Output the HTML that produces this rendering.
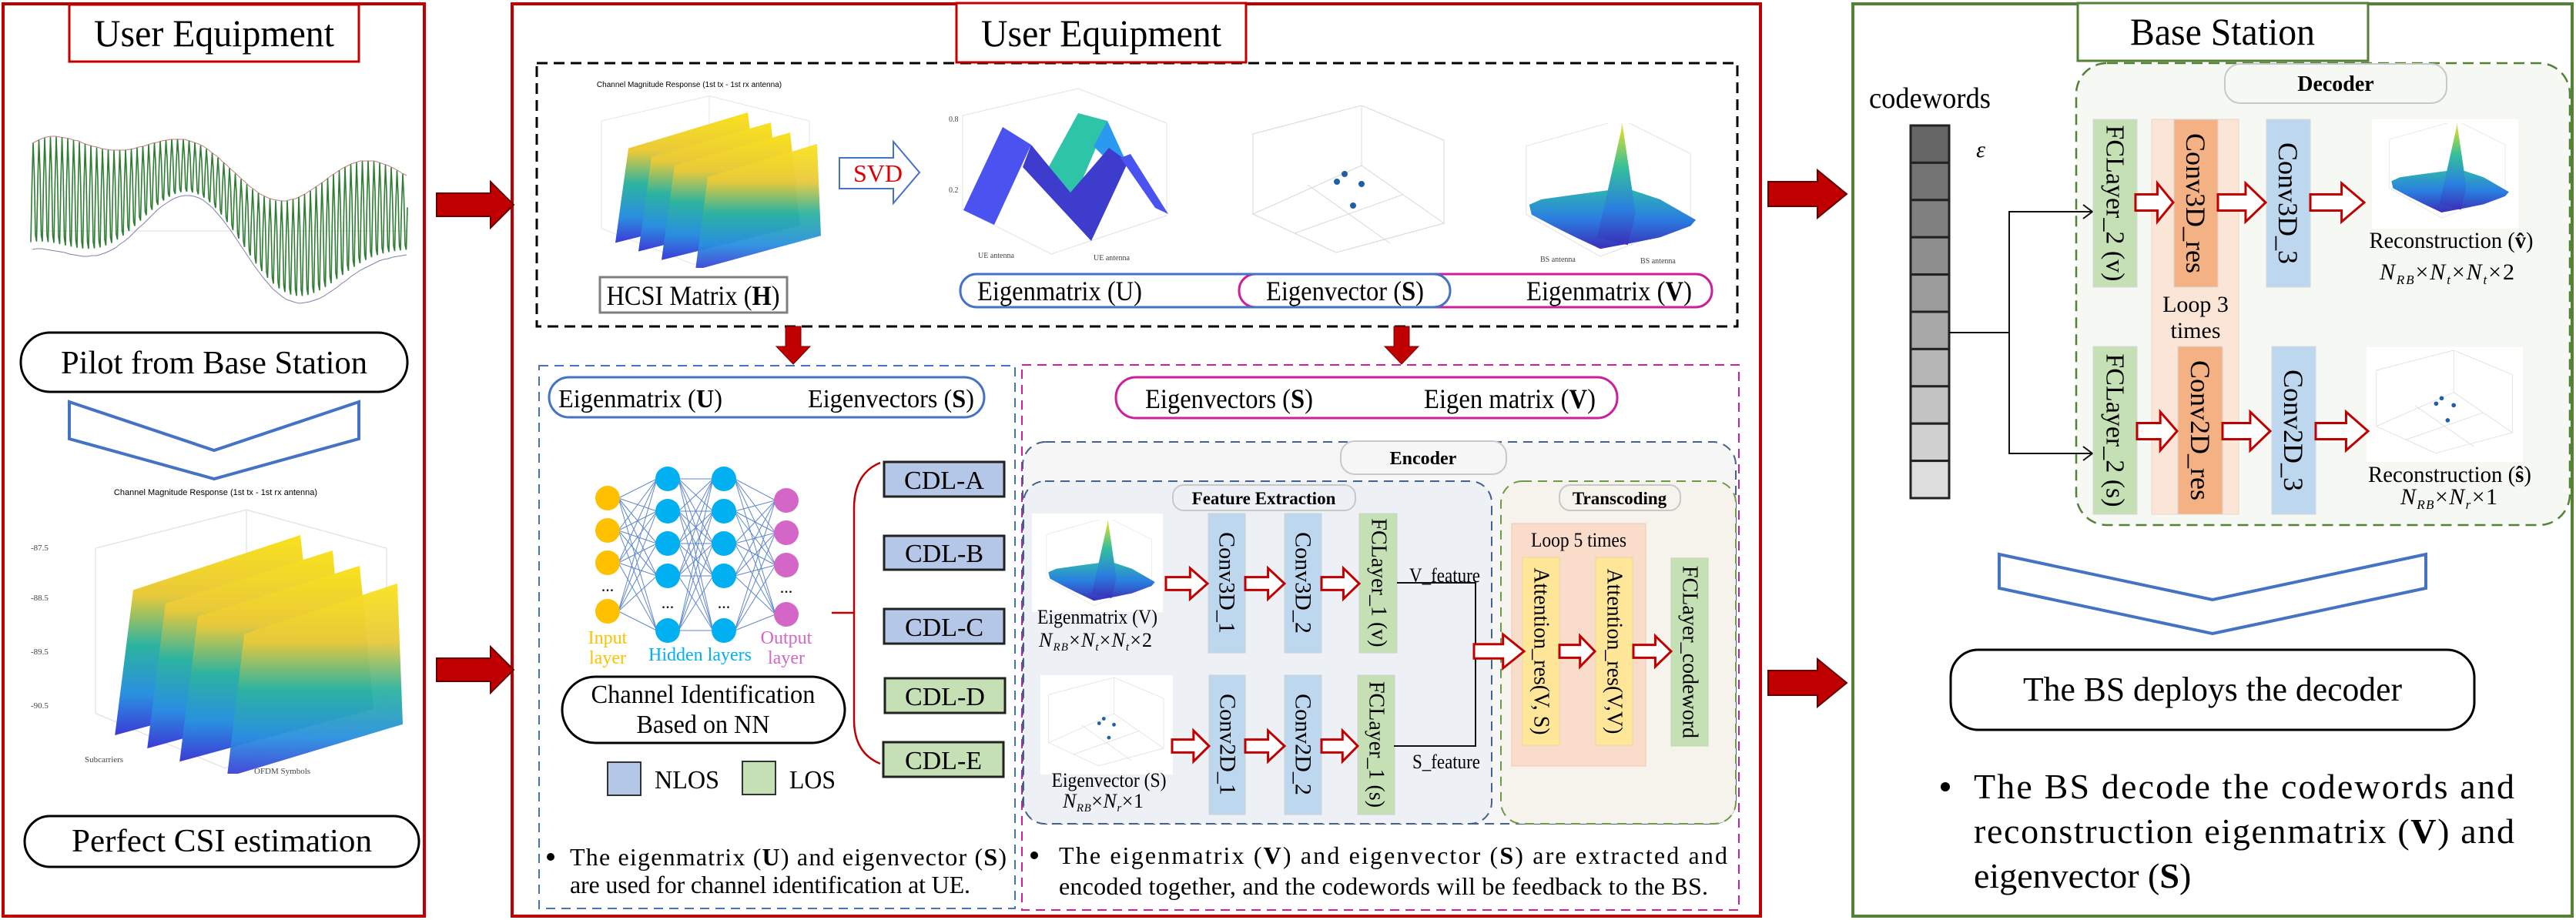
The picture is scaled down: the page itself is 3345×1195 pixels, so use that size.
<!DOCTYPE html>
<html><head><meta charset="utf-8">
<style>
html,body{margin:0;padding:0;background:#fff;}
svg{display:block;}
text{font-family:"Liberation Serif","DejaVu Serif",serif;}
.sans{font-family:"Liberation Sans",sans-serif;}
</style></head>
<body>
<svg id="s" width="3345" height="1195" viewBox="0 0 3345 1195" xmlns="http://www.w3.org/2000/svg">
<defs>
 <linearGradient id="ridge" x1="0" y1="0" x2="0" y2="1">
  <stop offset="0" stop-color="#f9e21d"/><stop offset="0.3" stop-color="#e9c93a"/><stop offset="0.55" stop-color="#2cb3a0"/><stop offset="0.8" stop-color="#2a8fe0"/><stop offset="1" stop-color="#3d3bd6"/>
 </linearGradient>
 <linearGradient id="vbase" x1="0" y1="0" x2="0" y2="1">
  <stop offset="0" stop-color="#2fb6b0"/><stop offset="0.5" stop-color="#2a7fe0"/><stop offset="1" stop-color="#3a2fb8"/>
 </linearGradient>
 <linearGradient id="spike" x1="0" y1="0" x2="0" y2="1">
  <stop offset="0" stop-color="#f0e020"/><stop offset="0.35" stop-color="#35c09a"/><stop offset="0.7" stop-color="#2a7fe0"/><stop offset="1" stop-color="#3a2fb8"/>
 </linearGradient>
 <symbol id="hcsi" viewBox="0 0 350 245" preserveAspectRatio="none">
  <g stroke="#e4e4e4" stroke-width="1" fill="none">
   <path d="M60 40 L60 190 L180 240 L330 180 L330 40"/><path d="M60 40 L200 5 L330 40"/><path d="M200 5 L200 150"/>
  </g>
  <polygon points="78,210 95,78 250,28 265,160" fill="url(#ridge)"/>
  <polygon points="108,222 125,90 280,42 292,172" fill="url(#ridge)"/>
  <polygon points="138,234 155,102 305,56 318,186" fill="url(#ridge)"/>
  <polygon points="182,248 198,118 340,72 345,200" fill="url(#ridge)" opacity="0.95"/>
 </symbol>
 <symbol id="vplot" viewBox="0 0 260 185" preserveAspectRatio="none">
  <g stroke="#e2e2e2" stroke-width="1" fill="none">
   <path d="M25 30 L25 120 L122 175 L240 130 L240 40"/><path d="M25 30 L150 -5 L240 40"/><path d="M150 -5 L150 95"/>
  </g>
  <polygon points="29,107 45,100 80,95 155,85 200,100 247,127 240,135 200,150 160,158 122,165 90,150 60,135 32,120" fill="url(#vbase)"/>
  <polygon points="118,150 151,2 168,118 158,160" fill="url(#spike)"/>
 </symbol>
 <symbol id="splot" viewBox="0 0 274 203" preserveAspectRatio="none">
  <g stroke="#d8d8d8" stroke-width="1" fill="none">
   <path d="M11 141 L119 191 L259 153 L152 78 Z"/><path d="M11 141 L11 37 L152 0 L259 45 L259 153"/><path d="M152 78 L152 0"/>
   <path d="M65 166 L205 116"/><path d="M189 179 L82 103"/>
  </g>
  <g fill="#1f5fa8"><circle cx="130" cy="89" r="4"/><circle cx="120" cy="99" r="4"/><circle cx="152" cy="102" r="4"/><circle cx="141" cy="130" r="4"/></g>
 </symbol>
</defs>

<!-- ============ LEFT PANEL ============ -->
<rect x="4" y="5" width="547" height="1185" fill="none" stroke="#c00000" stroke-width="4"/>
<rect x="90" y="6" width="376" height="74" fill="#fff" stroke="#c00000" stroke-width="3"/>
<text x="278" y="60" font-size="50" text-anchor="middle" textLength="312" lengthAdjust="spacingAndGlyphs">User Equipment</text>
<g id="wave"></g>
<rect x="27" y="432" width="502" height="77" rx="38" fill="#fff" stroke="#000" stroke-width="3"/>
<text x="278" y="485" font-size="42" text-anchor="middle" textLength="398" lengthAdjust="spacingAndGlyphs">Pilot from Base Station</text>
<polygon points="90,522 278,585 466,522 466,570 278,622 90,570" fill="none" stroke="#4472c4" stroke-width="4"/>
<text class="sans" x="280" y="643" font-size="11" text-anchor="middle">Channel Magnitude Response (1st tx - 1st rx antenna)</text>
<use href="#hcsi" x="40" y="655" width="490" height="350"/>
<g class="sans" font-size="11" fill="#444">
 <text x="40" y="715">-87.5</text><text x="40" y="780">-88.5</text><text x="40" y="850">-89.5</text><text x="40" y="920">-90.5</text>
 <text x="110" y="990">Subcarriers</text><text x="330" y="1005">OFDM Symbols</text>
</g>
<rect x="32" y="1060" width="512" height="66" rx="33" fill="#fff" stroke="#000" stroke-width="3"/>
<text x="288" y="1106" font-size="42" text-anchor="middle" textLength="390" lengthAdjust="spacingAndGlyphs">Perfect CSI estimation</text>

<!-- ============ MIDDLE PANEL ============ -->
<rect x="665" y="5" width="1621" height="1185" fill="none" stroke="#c00000" stroke-width="4"/>
<rect x="697" y="82" width="1559" height="342" fill="none" stroke="#000" stroke-width="3" stroke-dasharray="14 8"/>
<rect x="1242" y="4" width="376" height="77" fill="#fff" stroke="#c00000" stroke-width="3"/>
<text x="1430" y="60" font-size="50" text-anchor="middle" textLength="312" lengthAdjust="spacingAndGlyphs">User Equipment</text>

<text class="sans" x="895" y="113" font-size="10" text-anchor="middle">Channel Magnitude Response (1st tx - 1st rx antenna)</text>
<use href="#hcsi" x="721" y="120" width="350" height="228"/>
<rect x="779" y="360" width="243" height="46" fill="#fff" stroke="#7f7f7f" stroke-width="3"/>
<text x="900" y="396" font-size="36" text-anchor="middle" textLength="225" lengthAdjust="spacingAndGlyphs">HCSI Matrix (<tspan font-weight="bold">H</tspan>)</text>
<polygon points="1090,205 1160,205 1160,184 1194,224 1160,264 1160,245 1090,245" fill="#fff" stroke="#4472c4" stroke-width="2"/>
<text x="1140" y="236" font-size="32" fill="#e00000" text-anchor="middle">SVD</text>

<!-- U plot -->
<g stroke="#e2e2e2" fill="none"><path d="M1250 150 L1250 272 L1365 330 L1515 280 L1515 160"/><path d="M1250 150 L1400 115 L1515 160"/></g>
<polygon points="1251,273 1302,165 1339,188 1291,292" fill="#4a52f0"/>
<polygon points="1360,220 1400,147 1438,157 1395,258" fill="#2ec4a8"/>
<polygon points="1420,190 1438,157 1460,205 1440,210" fill="#2a9af0"/>
<polygon points="1328,217 1339,188 1390,250 1440,192 1465,210 1417,313" fill="#3d3ccc"/>
<polygon points="1455,205 1468,200 1517,278 1500,270" fill="#4a52f0"/>
<g class="sans" font-size="10" fill="#444"><text x="1232" y="158">0.8</text><text x="1232" y="250">0.2</text><text x="1270" y="335">UE antenna</text><text x="1420" y="338">UE antenna</text></g>
<use href="#splot" x="1616" y="137" width="274" height="203"/>
<use href="#vplot" x="1957" y="160" width="258" height="183"/>
<g class="sans" font-size="10" fill="#444"><text x="2000" y="340">BS antenna</text><text x="2130" y="342">BS antenna</text></g>

<rect x="1609" y="356" width="614" height="43" rx="21" fill="#fff" stroke="#cc1f9a" stroke-width="3"/>
<rect x="1247" y="356" width="636" height="43" rx="21" fill="none" stroke="#4472c4" stroke-width="3"/>
<text x="1269" y="390" font-size="36" textLength="214" lengthAdjust="spacingAndGlyphs">Eigenmatrix (U)</text>
<text x="1644" y="390" font-size="36" textLength="205" lengthAdjust="spacingAndGlyphs">Eigenvector (<tspan font-weight="bold">S</tspan>)</text>
<text x="1982" y="390" font-size="36" textLength="215" lengthAdjust="spacingAndGlyphs">Eigenmatrix (<tspan font-weight="bold">V</tspan>)</text>

<!-- down arrows -->
<polygon points="1020,424 1040,424 1040,450 1052,450 1030,473 1008,450 1020,450" fill="#c00000" stroke="#7a0000" stroke-width="1"/>
<polygon points="1810,424 1830,424 1830,450 1842,450 1820,473 1798,450 1810,450" fill="#c00000" stroke="#7a0000" stroke-width="1"/>

<!-- Blue dashed: channel identification -->
<rect x="700" y="475" width="618" height="705" fill="none" stroke="#4472c4" stroke-width="2" stroke-dasharray="12 8"/>
<rect x="713" y="490" width="565" height="52" rx="26" fill="#fff" stroke="#4472c4" stroke-width="3"/>
<text x="725" y="529" font-size="34" textLength="213" lengthAdjust="spacingAndGlyphs">Eigenmatrix (<tspan font-weight="bold">U</tspan>)</text>
<text x="1049" y="529" font-size="34" textLength="216" lengthAdjust="spacingAndGlyphs">Eigenvectors (<tspan font-weight="bold">S</tspan>)</text>
<g id="nnedges" stroke="#4472c4" stroke-width="1" opacity="0.85"></g>
<g fill="#ffc000"><circle cx="789" cy="647" r="16"/><circle cx="789" cy="689" r="16"/><circle cx="789" cy="731" r="16"/><circle cx="789" cy="794" r="16"/></g>
<g fill="#00b0f0"><circle cx="867" cy="622" r="16"/><circle cx="867" cy="664" r="16"/><circle cx="867" cy="706" r="16"/><circle cx="867" cy="748" r="16"/><circle cx="867" cy="819" r="16"/>
<circle cx="940" cy="622" r="16"/><circle cx="940" cy="664" r="16"/><circle cx="940" cy="706" r="16"/><circle cx="940" cy="748" r="16"/><circle cx="940" cy="819" r="16"/></g>
<g fill="#d466c8"><circle cx="1021" cy="650" r="16"/><circle cx="1021" cy="692" r="16"/><circle cx="1021" cy="734" r="16"/><circle cx="1021" cy="798" r="16"/></g>
<g font-size="22" text-anchor="middle"><text x="789" y="768">...</text><text x="867" y="790">...</text><text x="940" y="790">...</text><text x="1021" y="770">...</text></g>
<g font-size="24" text-anchor="middle">
 <text x="789" y="836" fill="#ffc000">Input</text><text x="789" y="862" fill="#ffc000">layer</text>
 <text x="909" y="858" fill="#00b0f0">Hidden layers</text>
 <text x="1021" y="836" fill="#d466c8">Output</text><text x="1021" y="862" fill="#d466c8">layer</text>
</g>
<rect x="730" y="879" width="367" height="86" rx="43" fill="#fff" stroke="#000" stroke-width="3"/>
<text x="913" y="913" font-size="34" text-anchor="middle" textLength="291" lengthAdjust="spacingAndGlyphs">Channel Identification</text>
<text x="913" y="952" font-size="34" text-anchor="middle" textLength="173" lengthAdjust="spacingAndGlyphs">Based on NN</text>
<rect x="789" y="990" width="43" height="43" fill="#b4c7e7" stroke="#333" stroke-width="2"/>
<text x="850" y="1024" font-size="34" textLength="84" lengthAdjust="spacingAndGlyphs">NLOS</text>
<rect x="964" y="989" width="43" height="43" fill="#c5e0b4" stroke="#333" stroke-width="2"/>
<text x="1025" y="1024" font-size="34" textLength="60" lengthAdjust="spacingAndGlyphs">LOS</text>
<path d="M1143 601 Q1109 615 1109 660 L1109 935 Q1109 978 1143 992 M1080 796 L1109 796" fill="none" stroke="#c00000" stroke-width="2.5"/>
<g stroke="#222" stroke-width="3">
 <rect x="1148" y="600" width="156" height="45" fill="#b4c7e7"/>
 <rect x="1148" y="696" width="156" height="44" fill="#b4c7e7"/>
 <rect x="1148" y="791" width="156" height="45" fill="#b4c7e7"/>
 <rect x="1149" y="881" width="156" height="45" fill="#c5e0b4"/>
 <rect x="1147" y="964" width="156" height="45" fill="#c5e0b4"/>
</g>
<g font-size="34" text-anchor="middle">
 <text x="1226" y="635">CDL-A</text><text x="1226" y="730">CDL-B</text><text x="1226" y="826">CDL-C</text><text x="1227" y="916">CDL-D</text><text x="1225" y="999">CDL-E</text>
</g>
<circle cx="715" cy="1113" r="5" fill="#000"/>
<text x="740" y="1124" font-size="32" textLength="567" lengthAdjust="spacing">The eigenmatrix (<tspan font-weight="bold">U</tspan>) and eigenvector (<tspan font-weight="bold">S</tspan>)</text>
<text x="740" y="1160" font-size="32" textLength="520" lengthAdjust="spacing">are used for channel identification at UE.</text>

<!-- Pink dashed: encoder -->
<rect x="1327" y="474" width="931" height="708" fill="none" stroke="#cc1f9a" stroke-width="2" stroke-dasharray="12 8"/>
<rect x="1449" y="490" width="651" height="53" rx="26" fill="#fff" stroke="#cc1f9a" stroke-width="3"/>
<text x="1487" y="530" font-size="36" textLength="218" lengthAdjust="spacingAndGlyphs">Eigenvectors (<tspan font-weight="bold">S</tspan>)</text>
<text x="1849" y="530" font-size="36" textLength="223" lengthAdjust="spacingAndGlyphs">Eigen matrix (<tspan font-weight="bold">V</tspan>)</text>
<rect x="1328" y="574" width="926" height="496" rx="30" fill="#f6f6f6" stroke="#44608c" stroke-width="2" stroke-dasharray="12 8"/>
<rect x="1741" y="573" width="215" height="43" rx="18" fill="#f6f6f6" stroke="#c8c8c8" stroke-width="2"/>
<text x="1848" y="603" font-size="24" font-weight="bold" text-anchor="middle">Encoder</text>
<rect x="1329" y="625" width="608" height="445" rx="28" fill="#edf1f6" stroke="#44608c" stroke-width="2" stroke-dasharray="12 8"/>
<rect x="1523" y="630" width="237" height="33" rx="14" fill="#edf1f6" stroke="#c8c8c8" stroke-width="2"/>
<text x="1641" y="655" font-size="23" font-weight="bold" text-anchor="middle">Feature Extraction</text>
<rect x="1949" y="625" width="305" height="445" rx="28" fill="#f5f3eb" stroke="#6f9a45" stroke-width="2" stroke-dasharray="12 8"/>
<rect x="2025" y="630" width="157" height="33" rx="14" fill="#f5f3eb" stroke="#c8c8c8" stroke-width="2"/>
<text x="2103" y="655" font-size="23" font-weight="bold" text-anchor="middle">Transcoding</text>

<rect x="1340" y="667" width="170" height="128" fill="#fff"/>
<use href="#vplot" x="1343" y="675" width="165" height="118"/>
<text x="1425" y="810" font-size="26" text-anchor="middle" textLength="156" lengthAdjust="spacingAndGlyphs">Eigenmatrix (V)</text>
<text x="1349" y="840" font-size="26" font-style="italic" textLength="147" lengthAdjust="spacing">N<tspan font-size="15" dy="5">RB</tspan><tspan dy="-5" font-style="normal">×</tspan>N<tspan font-size="15" dy="5">t</tspan><tspan dy="-5" font-style="normal">×</tspan>N<tspan font-size="15" dy="5">t</tspan><tspan dy="-5" font-style="normal">×2</tspan></text>
<rect x="1351" y="877" width="172" height="129" fill="#fff"/>
<use href="#splot" x="1355" y="880" width="165" height="122"/>
<text x="1440" y="1022" font-size="26" text-anchor="middle" textLength="149" lengthAdjust="spacingAndGlyphs">Eigenvector (S)</text>
<text x="1380" y="1049" font-size="26" font-style="italic" textLength="105" lengthAdjust="spacing">N<tspan font-size="15" dy="5">RB</tspan><tspan dy="-5" font-style="normal">×</tspan>N<tspan font-size="15" dy="5">r</tspan><tspan dy="-5" font-style="normal">×1</tspan></text>

<g stroke="#d0d0d0" stroke-width="1">
 <rect x="1569" y="667" width="48" height="181" fill="#bdd7ee"/>
 <rect x="1668" y="667" width="48" height="181" fill="#bdd7ee"/>
 <rect x="1765" y="667" width="49" height="181" fill="#c5e0b4"/>
 <rect x="1570" y="877" width="47" height="181" fill="#bdd7ee"/>
 <rect x="1668" y="877" width="48" height="181" fill="#bdd7ee"/>
 <rect x="1763" y="877" width="48" height="181" fill="#c5e0b4"/>
</g>
<g font-size="30" text-anchor="middle" dominant-baseline="central">
 <text transform="translate(1593,757) rotate(90)">Conv3D_1</text>
 <text transform="translate(1692,757) rotate(90)">Conv3D_2</text>
 <text transform="translate(1790,757) rotate(90)" font-size="28">FCLayer_1 (v)</text>
 <text transform="translate(1594,967) rotate(90)">Conv2D_1</text>
 <text transform="translate(1692,967) rotate(90)">Conv2D_2</text>
 <text transform="translate(1787,967) rotate(90)" font-size="28">FCLayer_1 (s)</text>
</g>
<polyline points="1814,757 1916,757 1916,969 1810,969" fill="none" stroke="#111" stroke-width="2"/>
<text x="1876" y="756" font-size="26" text-anchor="middle" textLength="92" lengthAdjust="spacingAndGlyphs">V_feature</text>
<text x="1878" y="998" font-size="26" text-anchor="middle" textLength="88" lengthAdjust="spacingAndGlyphs">S_feature</text>
<rect x="1963" y="680" width="174" height="315" fill="#fadccb" stroke="#f0c8b0" stroke-width="1"/>
<text x="2050" y="710" font-size="26" text-anchor="middle" textLength="124" lengthAdjust="spacingAndGlyphs">Loop 5 times</text>
<g stroke="#e8d8a0" stroke-width="1">
 <rect x="1977" y="724" width="48" height="244" fill="#ffe699"/>
 <rect x="2072" y="724" width="48" height="244" fill="#ffe699"/>
 <rect x="2170" y="725" width="48" height="244" fill="#c5e0b4" stroke="#c0d8b0"/>
</g>
<g font-size="28" text-anchor="middle" dominant-baseline="central">
 <text transform="translate(2001,846) rotate(90)">Attention_res(V, S)</text>
 <text transform="translate(2096,846) rotate(90)">Attention_res(V,V)</text>
 <text transform="translate(2194,847) rotate(90)">FCLayer_codeword</text>
</g>
<circle cx="1343" cy="1111" r="5" fill="#000"/>
<text x="1375" y="1122" font-size="32" textLength="868" lengthAdjust="spacing">The eigenmatrix (<tspan font-weight="bold">V</tspan>) and eigenvector (<tspan font-weight="bold">S</tspan>) are extracted and</text>
<text x="1375" y="1162" font-size="32" textLength="843" lengthAdjust="spacing">encoded together, and the codewords will be feedback to the BS.</text>

<!-- ============ RIGHT PANEL ============ -->
<rect x="2406" y="5" width="934" height="1185" fill="none" stroke="#548235" stroke-width="4"/>
<rect x="2696" y="82" width="641" height="600" rx="40" fill="#f6f8f3" stroke="#548235" stroke-width="2.5" stroke-dasharray="14 8"/>
<rect x="2698" y="4" width="377" height="75" fill="#fff" stroke="#548235" stroke-width="3"/>
<text x="2886" y="58" font-size="50" text-anchor="middle" textLength="240" lengthAdjust="spacingAndGlyphs">Base Station</text>
<rect x="2889" y="83" width="288" height="51" rx="20" fill="#f6f8f3" stroke="#c8c8c8" stroke-width="2"/>
<text x="3033" y="118" font-size="28" font-weight="bold" text-anchor="middle">Decoder</text>
<text x="2506" y="140" font-size="38" text-anchor="middle" textLength="158" lengthAdjust="spacingAndGlyphs">codewords</text>
<text x="2572" y="204" font-size="30" font-style="italic" text-anchor="middle">ε</text>
<g id="cw" stroke="#222" stroke-width="3"></g>
<polyline points="2531,432 2609,432" fill="none" stroke="#111" stroke-width="2"/>
<polyline points="2717,275 2609,275 2609,589 2717,589" fill="none" stroke="#111" stroke-width="2"/>
<path d="M2705 266 L2717 275 L2705 284 M2705 580 L2717 589 L2705 598" fill="none" stroke="#111" stroke-width="2"/>
<rect x="2794" y="155" width="113" height="513" fill="#fbe5d6" stroke="#f2d2c0" stroke-width="1"/>
<g stroke="#d8d8d8" stroke-width="1">
 <rect x="2718" y="155" width="57" height="218" fill="#c5e0b4"/>
 <rect x="2823" y="155" width="57" height="218" fill="#f4b183"/>
 <rect x="2943" y="155" width="57" height="218" fill="#bdd7ee"/>
 <rect x="2718" y="450" width="57" height="218" fill="#c5e0b4"/>
 <rect x="2828" y="450" width="58" height="218" fill="#f4b183"/>
 <rect x="2950" y="450" width="57" height="218" fill="#bdd7ee"/>
</g>
<g font-size="34" text-anchor="middle" dominant-baseline="central">
 <text transform="translate(2746,264) rotate(90)">FCLayer_2 (v)</text>
 <text transform="translate(2851,264) rotate(90)" font-size="36">Conv3D_res</text>
 <text transform="translate(2971,264) rotate(90)" font-size="36">Conv3D_3</text>
 <text transform="translate(2746,559) rotate(90)">FCLayer_2 (s)</text>
 <text transform="translate(2857,559) rotate(90)" font-size="36">Conv2D_res</text>
 <text transform="translate(2978,559) rotate(90)" font-size="36">Conv2D_3</text>
</g>
<text x="2851" y="405" font-size="30" text-anchor="middle">Loop 3</text>
<text x="2851" y="439" font-size="30" text-anchor="middle">times</text>
<rect x="3080" y="155" width="190" height="142" fill="#fff"/>
<use href="#vplot" x="3085" y="160" width="182" height="130"/>
<text x="3183" y="322" font-size="30" text-anchor="middle" textLength="213" lengthAdjust="spacingAndGlyphs">Reconstruction (<tspan font-weight="bold">v̂</tspan>)</text>
<text x="3090" y="363" font-size="30" font-style="italic" textLength="175" lengthAdjust="spacing">N<tspan font-size="17" dy="6">RB</tspan><tspan dy="-6" font-style="normal">×</tspan>N<tspan font-size="17" dy="6">t</tspan><tspan dy="-6" font-style="normal">×</tspan>N<tspan font-size="17" dy="6">t</tspan><tspan dy="-6" font-style="normal">×2</tspan></text>
<rect x="3073" y="451" width="203" height="149" fill="#fff"/>
<use href="#splot" x="3078" y="455" width="195" height="142"/>
<text x="3181" y="626" font-size="30" text-anchor="middle" textLength="212" lengthAdjust="spacingAndGlyphs">Reconstruction (<tspan font-weight="bold">ŝ</tspan>)</text>
<text x="3117" y="655" font-size="30" font-style="italic" textLength="126" lengthAdjust="spacing">N<tspan font-size="17" dy="6">RB</tspan><tspan dy="-6" font-style="normal">×</tspan>N<tspan font-size="17" dy="6">r</tspan><tspan dy="-6" font-style="normal">×1</tspan></text>

<polygon points="2596,720 2873,779 3150,720 3150,764 2873,823 2596,764" fill="none" stroke="#4472c4" stroke-width="4"/>
<rect x="2533" y="844" width="680" height="104" rx="36" fill="#fff" stroke="#000" stroke-width="3"/>
<text x="2873" y="910" font-size="44" text-anchor="middle" textLength="492" lengthAdjust="spacingAndGlyphs">The BS  deploys the decoder</text>
<circle cx="2526" cy="1022" r="6" fill="#000"/>
<text x="2563" y="1037" font-size="46" textLength="702" lengthAdjust="spacing">The BS decode the codewords and</text>
<text x="2563" y="1095" font-size="46" textLength="702" lengthAdjust="spacing">reconstruction eigenmatrix (<tspan font-weight="bold">V</tspan>) and</text>
<text x="2563" y="1153" font-size="46">eigenvector (<tspan font-weight="bold">S</tspan>)</text>

<g id="arrows"></g>
</svg>
<script>
(function(){
var NS="http://www.w3.org/2000/svg";
function el(p,t,a){var e=document.createElementNS(NS,t);for(var k in a)e.setAttribute(k,a[k]);p.appendChild(e);return e;}
// waveform
var w=document.getElementById('wave');
var d="",up="",lo="";
for(var x=40;x<=529;x+=1.5){
 var c=260-45*Math.sin((x-40)/75)+25*Math.sin((x-40)/40)-30*Math.exp(-Math.pow((x-330)/70,2))*0;
 c=270-40*Math.sin((x-60)/78)-25*Math.sin((x-200)/35);
 var a=55+20*Math.sin(x/55);
 var y=c+a*Math.sin(x*2*Math.PI/7.5);
 d+=(d?"L":"M")+x.toFixed(1)+" "+y.toFixed(1);
 if(Math.round(x)%6==0){up+=(up?"L":"M")+x.toFixed(0)+" "+(c-a).toFixed(0);lo+=(lo?"L":"M")+x.toFixed(0)+" "+(c+a).toFixed(0);}
}
el(w,'line',{x1:40,y1:300,x2:530,y2:300,stroke:'#ddd','stroke-width':1});
el(w,'path',{d:up,fill:'none',stroke:'#c08080','stroke-width':1});
el(w,'path',{d:lo,fill:'none',stroke:'#8080b0','stroke-width':1});
el(w,'path',{d:d,fill:'none',stroke:'#2e7d32','stroke-width':1.6});
// NN edges
var L=[[[789,647],[789,689],[789,731],[789,794]],[[867,622],[867,664],[867,706],[867,748],[867,819]],[[940,622],[940,664],[940,706],[940,748],[940,819]],[[1021,650],[1021,692],[1021,734],[1021,798]]];
var g=document.getElementById('nnedges');
for(var i=0;i<3;i++)for(var a2=0;a2<L[i].length;a2++)for(var b=0;b<L[i+1].length;b++)
 el(g,'line',{x1:L[i][a2][0]+14,y1:L[i][a2][1],x2:L[i+1][b][0]-14,y2:L[i+1][b][1]});
// codeword bar
var cw=document.getElementById('cw');
for(var k=0;k<10;k++){var v=Math.round(0x66+(0xdd-0x66)*k/9);var h=v.toString(16);
 el(cw,'rect',{x:2481,y:(163+k*48.4).toFixed(1),width:50,height:48.4,fill:'#'+h+h+h});}
// arrows
var ar=document.getElementById('arrows');
function open(x1,x2,cy,H){var s=H*0.42,xh=x1+(x2-x1)*0.58;
 el(ar,'polygon',{points:[x1,cy-s,xh,cy-s,xh,cy-H,x2,cy,xh,cy+H,xh,cy+s,x1,cy+s].join(' '),fill:'#fff',stroke:'#c00000','stroke-width':3});}
function fill(x1,x2,cy,H,s,xh){
 el(ar,'polygon',{points:[x1,cy-s,xh,cy-s,xh,cy-H,x2,cy,xh,cy+H,xh,cy+s,x1,cy+s].join(' '),fill:'#c00000',stroke:'#600','stroke-width':2});}
fill(567,667,266,30,15,637);fill(567,667,870,30,15,637);
fill(2296,2398,252,31,16,2360);fill(2296,2398,887,31,16,2360);
open(1514,1568,758,20);open(1617,1668,758,20);open(1716,1765,758,20);
open(1522,1570,969,20);open(1617,1668,969,20);open(1716,1763,969,20);
open(1914,1979,846,22);open(2025,2071,846,20);open(2121,2170,846,20);
open(2773,2822,263,25);open(2880,2942,263,25);open(3000,3070,263,25);
open(2775,2827,560,25);open(2886,2948,560,25);open(3007,3075,560,25);
})();
</script>
</body></html>
